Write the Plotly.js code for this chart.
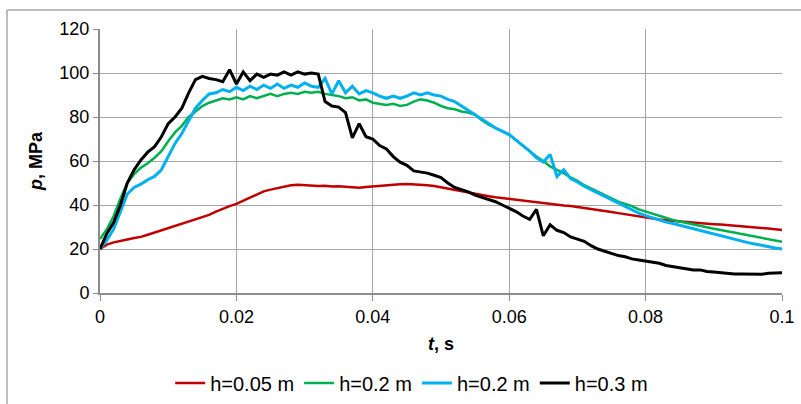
<!DOCTYPE html>
<html>
<head>
<meta charset="utf-8">
<script src="https://cdn.plot.ly/plotly-3.0.1.min.js"></script>
<style>
html,body{margin:0;padding:0;background:#fff;overflow:hidden;}
#chart{width:801px;height:404px;}
</style>
</head>
<body>
<div id="chart"></div>
<script>
// time axis, s (step 0.001)
var tValues = [];
for (var i = 0; i <= 100; i++) { tValues.push(+(i * 0.001).toFixed(3)); }

var seriesNames = ["h=0.05 m", "h=0.2 m", "h=0.2 m", "h=0.3 m"];
var seriesColors = ["#C00000", "#00B050", "#00B0F0", "#000000"];

var pRed = [20, 22, 23, 23.5, 24.3, 25, 25.5, 26.5, 27.5, 28.5,
 29.3, 30.3, 31.3, 32.5, 33.5, 34.3, 35.5, 37, 38.3, 39.5,
 40.5, 42, 43.5, 45, 46.2, 47, 47.6, 48.5, 49, 49.2,
 49, 48.8, 48.6, 48.8, 48.4, 48.5, 48.2, 48.0, 47.8, 48.2,
 48.5, 48.8, 49, 49.2, 49.4, 49.5, 49.4, 49.2, 49.0, 48.6,
 48.0, 47.3, 46.8, 46.2, 45.6, 45.0, 44.5, 44.0, 43.5, 43.1,
 42.7, 42.3, 42.0, 41.6, 41.3, 40.9, 40.5, 40.2, 39.8, 39.5,
 39.1, 38.7, 38.2, 37.8, 37.3, 36.8, 36.3, 35.8, 35.2, 34.6,
 34.2, 33.8, 33.4, 33.1, 32.8, 32.5, 32.3, 32.0, 31.8, 31.5,
 31.3, 31.1, 30.9, 30.7, 30.5, 30.2, 30.0, 29.6, 29.3, 29.0,
 28.6];

var pGreen = [24.5, 29, 35, 43, 50, 54, 57, 59, 61.5, 64.5,
 69, 73, 76, 80, 82.5, 85, 86.5, 87.5, 88.5, 88,
 89, 88, 89.5, 88.5, 89.5, 90.5, 89.5, 90.5, 91, 90.5,
 91.5, 91, 91.5, 90.5, 90, 89.5, 88.5, 89, 87.5, 88,
 86.5, 86, 85.5, 86, 85, 85.5, 87, 88, 87.5, 86.5,
 85, 84, 83.5, 82.5, 82, 81, 78.5, 76.5, 75, 73.5,
 72, 69.5, 67, 64.5, 62, 60, 57.5, 56, 54.5, 52.5,
 51, 49, 47.5, 46, 44.5, 43, 41.5, 40.5, 39.5, 38,
 37, 36, 35, 34, 33.2, 32.5, 31.8, 31, 30.4, 29.8,
 29.2, 28.6, 28, 27.3, 26.7, 26.1, 25.5, 24.9, 24.3, 23.8,
 23.3];

var pBlue = [20, 24, 29, 37, 45, 48, 49.5, 51.5, 53, 56,
 62, 68, 72.5, 78, 84, 87.5, 90.5, 91, 92.5, 91.5,
 93.5, 92, 94, 92.5, 94.5, 93, 95, 93, 94.5, 93.5,
 95.5, 94, 93.5, 97.5, 90.5, 96.5, 91, 94, 90.5, 92,
 91, 89.5, 88.5, 89.5, 88.5, 89.5, 91, 90, 91, 90,
 89.5, 88, 87, 85, 83, 81, 79, 77, 75, 73.5,
 72, 69.5, 67, 64.5, 61.5, 59.5, 63, 53, 56, 52,
 50.5, 48.5, 47, 45.5, 44, 42.5, 41, 39.5, 38, 36.3,
 35.2, 34.2, 33.2, 32.3, 31.6, 30.8, 30, 29.2, 28.3, 27.4,
 26.6, 25.8, 25, 24.3, 23.5, 22.9, 22.3, 21.6, 21, 20.5,
 20];

var pBlack = [20, 27, 32, 40, 50, 56, 60.5, 64, 66.5, 71,
 77, 80, 84, 91, 97, 98.5, 97.5, 97, 96, 101.5,
 95, 100.5, 96.5, 99.5, 98, 99.5, 99, 100.5, 99, 100.5,
 99.5, 100, 99.5, 87, 85, 84.5, 82, 70.5, 77, 71,
 70, 67, 65.5, 62, 59.5, 58, 55.5, 55, 54.5, 53.5,
 52.5, 50, 48, 47, 46, 44.5, 43.5, 42.5, 41.5, 40,
 38.5, 37, 35, 33.5, 38, 26, 31, 28.5, 27.5, 25.5,
 24.5, 23.5, 21.5, 20, 19, 18, 17, 16.5, 15.5, 15,
 14.5, 14, 13.5, 12.5, 12, 11.5, 11, 10.5, 10.5, 9.8,
 9.5, 9.2, 8.8, 8.6, 8.6, 8.5, 8.7, 8.5, 9, 9,
 9.2];

var xTickVals = [0, 0.02, 0.04, 0.06, 0.08, 0.1];
var xTickText = ["0", "0.02", "0.04", "0.06", "0.08", "0.1"];
var yTickVals = [0, 20, 40, 60, 80, 100, 120];

var allSeries = [pRed, pGreen, pBlue, pBlack];
var widths = [2.5, 2.5, 3, 3];
var traces = allSeries.map(function (vals, k) {
  return {
    x: tValues, y: vals, type: "scatter", mode: "lines",
    name: seriesNames[k],
    line: {color: seriesColors[k], width: widths[k]}
  };
});

var font = "Liberation Sans, Arial, sans-serif";
var layout = {
  width: 801, height: 404,
  margin: {l: 100, r: 19, t: 29, b: 111, autoexpand: false},
  paper_bgcolor: "#fff", plot_bgcolor: "#fff",
  font: {family: font, size: 18, color: "#000"},
  showlegend: true,
  legend: {orientation: "h", x: 0.457, xanchor: "center", yref: "container", y: 0.052, yanchor: "middle",
           font: {family: font, size: 20, color: "#000"}, itemwidth: 30, tracegroupgap: 0},
  xaxis: {
    range: [0, 0.1], tickvals: xTickVals, ticktext: xTickText, automargin: false,
    showgrid: true, gridcolor: "#a6a6a6", gridwidth: 1,
    showline: true, linecolor: "#8c8c8c", linewidth: 2,
    ticks: "outside", ticklen: 6, tickcolor: "#8c8c8c",
    zeroline: false, tickfont: {size: 18},
    title: {text: "<b><i>t</i>, s</b>", font: {size: 18}, standoff: 12}
  },
  yaxis: {
    range: [0, 120], tickvals: yTickVals, automargin: false,
    showgrid: true, gridcolor: "#a6a6a6", gridwidth: 1,
    showline: true, linecolor: "#8c8c8c", linewidth: 2,
    ticks: "outside", ticklen: 5, tickcolor: "#8c8c8c",
    zeroline: false, tickfont: {size: 18},
    title: {text: "<b><i>p</i>, MPa</b>", font: {size: 18}, standoff: 12}
  },
  shapes: [
    {type: "line", xref: "paper", yref: "paper", x0: -0.1364, x1: 1.2, y0: 1.072, y1: 1.072,
     line: {color: "#a6a6a6", width: 1.5}},
    {type: "line", xref: "paper", yref: "paper", x0: -0.1364, x1: -0.1364, y0: 1.072, y1: -0.5,
     line: {color: "#a6a6a6", width: 1.5}}
  ]
};

Plotly.newPlot("chart", traces, layout, {staticPlot: true, displayModeBar: false});
</script>
</body>
</html>
